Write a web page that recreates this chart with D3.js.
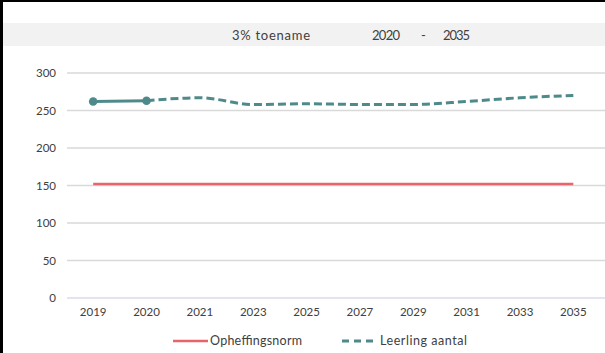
<!DOCTYPE html>
<html><head><meta charset="utf-8">
<script src="https://cdn.jsdelivr.net/npm/d3@7/dist/d3.min.js"></script>
<style>html,body{margin:0;padding:0;background:#fff;}svg{display:block;font-family:Lato,"Open Sans",sans-serif;}</style>
</head><body>
<svg id="c" width="605" height="353"></svg>
<script>
const years = ["2019","2020","2021","2023","2025","2027","2029","2031","2033","2035"];
const leerlingAantal = [262,263,267,258,259,258,258,262,267,270];
const opheffingsnorm = [152,152,152,152,152,152,152,152,152,152];
const yTicks = [0,50,100,150,200,250,300];
const titleParts = ["3% toename","2020","-","2035"];
const legendLabels = ["Opheffingsnorm","Leerling aantal"];

const svg = d3.select("#c");
const W = 605, H = 353;
const teal = "#4f8a8b", red = "#e8666a", txt = "#404040";

// title band
svg.append("rect").attr("x",0).attr("y",23).attr("width",W).attr("height",23).attr("fill","#f2f2f2");
const titleLayout = [[232,78],[372,28],[421,5],[443,27]];
titleParts.forEach((t,i)=>{
  const el = svg.append("text").attr("x",titleLayout[i][0]).attr("y",40)
    .attr("font-size",13).attr("fill",txt).text(t);
  if (t.length>1) el.attr("textLength",titleLayout[i][1]).attr("lengthAdjust","spacing");
});

const x = d3.scaleBand().domain(years).range([66.5,600]);
const y = d3.scaleLinear().domain([0,300]).range([298,73]);

// gridlines
svg.append("g").selectAll("line").data(yTicks).join("line")
  .attr("x1",67).attr("x2",W).attr("y1",d=>y(d)).attr("y2",d=>y(d))
  .attr("stroke",d=>d===0?"#e4e4ee":"#d9d9d9").attr("stroke-width",d=>d===0?2:1.5);

// y axis labels
const yAxis = d3.axisLeft(y).tickValues(yTicks).tickSize(0).tickPadding(0);
const gy = svg.append("g").attr("transform","translate(56,0)").call(yAxis);
gy.select(".domain").remove();
gy.selectAll("text").attr("font-size",11.5).attr("fill",txt).attr("font-family","Lato,'Open Sans',sans-serif");

// x axis labels
const xAxis = d3.axisBottom(x).tickSize(0).tickPadding(0);
const gx = svg.append("g").attr("transform","translate(0,308)").call(xAxis);
gx.select(".domain").remove();
gx.selectAll("text").attr("font-size",11.5).attr("fill",txt).attr("font-family","Lato,'Open Sans',sans-serif");

const cx = d => x(d) + x.bandwidth()/2;

// opheffingsnorm line
svg.append("path").datum(years.map((d,i)=>[cx(d),y(opheffingsnorm[i])]))
  .attr("d",d3.line()).attr("fill","none").attr("stroke",red).attr("stroke-width",2.5);

// leerling aantal
const pts = years.map((d,i)=>[cx(d),y(leerlingAantal[i])]);
const curve = d3.line().curve(d3.curveMonotoneX);
svg.append("path").datum(pts.slice(0,2)).attr("d",curve).attr("fill","none")
  .attr("stroke",teal).attr("stroke-width",3);
svg.append("path").datum(pts.slice(1)).attr("d",curve).attr("fill","none")
  .attr("stroke",teal).attr("stroke-width",3).attr("stroke-dasharray","8,4");
svg.append("g").selectAll("circle").data(pts.slice(0,2)).join("circle")
  .attr("cx",d=>d[0]).attr("cy",d=>d[1]).attr("r",4.3).attr("fill",teal);

// legend
const lg = svg.append("g");
lg.append("line").attr("x1",173).attr("x2",208).attr("y1",341).attr("y2",341).attr("stroke",red).attr("stroke-width",2.5);
lg.append("text").attr("x",210).attr("y",345).attr("font-size",12.5).attr("fill",txt)
  .attr("textLength",92).attr("lengthAdjust","spacing").text(legendLabels[0]);
lg.append("line").attr("x1",342).attr("x2",374).attr("y1",341).attr("y2",341).attr("stroke",teal).attr("stroke-width",3).attr("stroke-dasharray","7,5");
lg.append("text").attr("x",380).attr("y",345).attr("font-size",12.5).attr("fill",txt)
  .attr("textLength",87).attr("lengthAdjust","spacing").text(legendLabels[1]);

// frame (top and left)
svg.append("line").attr("x1",0).attr("x2",W).attr("y1",1).attr("y2",1).attr("stroke","#000").attr("stroke-width",2);
svg.append("line").attr("x1",1.5).attr("x2",1.5).attr("y1",0).attr("y2",H).attr("stroke","#000").attr("stroke-width",3);
</script>
</body></html>
